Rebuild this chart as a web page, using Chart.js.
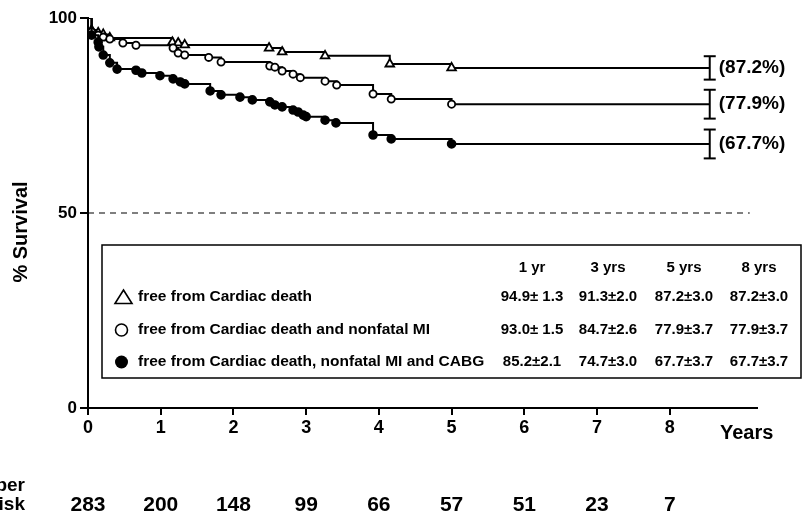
<!DOCTYPE html>
<html lang="en">
<head>
  <meta charset="UTF-8" />
  <title>Event-free survival</title>
  <script src="https://cdn.jsdelivr.net/npm/chart.js"></script>
  <style>
    html, body { margin: 0; padding: 0; background: #fff; }
    #chart { display: block; }
  </style>
</head>
<body>
  <canvas id="chart" width="803" height="517"></canvas>

  <script>
    // Kaplan-Meier steps: event times (years) and % event-free after each event
    const cdYears = [0, 0.05, 0.14, 0.21, 0.30, 1.16, 1.24, 1.33, 2.49, 2.67, 3.26, 4.15, 5.0];
    const cdSurv  = [100, 96.9, 96.2, 95.8, 94.9, 93.8, 93.6, 93.1, 92.3, 91.3, 90.3, 88.2, 87.2];

    const miYears = [0, 0.05, 0.14, 0.21, 0.30, 0.48, 0.66, 1.17, 1.24, 1.33, 1.66, 1.83,
                     2.50, 2.57, 2.67, 2.82, 2.92, 3.26, 3.42, 3.92, 4.17, 5.0];
    const miSurv  = [100, 96.4, 95.6, 95.1, 94.6, 93.6, 93.0, 92.3, 91.0, 90.5, 89.9, 88.7,
                     87.7, 87.4, 86.4, 85.6, 84.7, 83.8, 82.8, 80.5, 79.2, 77.9];

    const cabgYears = [0, 0.05, 0.14, 0.15, 0.21, 0.30, 0.40, 0.66, 0.74, 0.99, 1.17, 1.27, 1.33,
                       1.68, 1.83, 2.09, 2.26, 2.50, 2.57, 2.67, 2.82, 2.89, 2.96, 3.00, 3.26,
                       3.41, 3.92, 4.17, 5.0];
    const cabgSurv  = [100, 95.6, 93.8, 92.6, 90.5, 88.5, 86.9, 86.6, 85.9, 85.2, 84.4, 83.6, 83.1,
                       81.3, 80.3, 79.7, 79.0, 78.5, 77.7, 77.2, 76.4, 75.9, 75.1, 74.7, 73.8,
                       73.1, 70.0, 69.0, 67.7];

    const followUpEnd = 8.55;          // where the curves stop and the error bars sit
    const finalPct = [87.2, 77.9, 67.7];
    const finalSE  = [3.0, 3.7, 3.7];

    const refLine = 50;
    const refLineEnd = 9.1;

    const xTicks = [0, 1, 2, 3, 4, 5, 6, 7, 8];
    const yTicks = [0, 50, 100];

    const tableCols = ['1 yr', '3 yrs', '5 yrs', '8 yrs'];
    const tableRows = [
      'free from Cardiac death',
      'free from Cardiac death and nonfatal MI',
      'free from Cardiac death, nonfatal MI and CABG'
    ];
    const tableValues = [
      ['94.9± 1.3', '91.3±2.0', '87.2±3.0', '87.2±3.0'],
      ['93.0± 1.5', '84.7±2.6', '77.9±3.7', '77.9±3.7'],
      ['85.2±2.1', '74.7±3.0', '67.7±3.7', '67.7±3.7']
    ];

    const riskYears  = [0, 1, 2, 3, 4, 5, 6, 7, 8];
    const riskCounts = [283, 200, 148, 99, 66, 57, 51, 23, 7];

    const FONT = '"Liberation Sans", Arial, sans-serif';

    function curve(years, surv) {
      const pts = years.map((x, i) => ({ x: x, y: surv[i] }));
      pts.push({ x: followUpEnd, y: surv[surv.length - 1] });
      return pts;
    }

    // no marker at the start (100%) or at the end of follow-up
    function markerRadius(r) {
      return ctx => {
        const n = ctx.dataset.data.length;
        return (ctx.dataIndex === 0 || ctx.dataIndex === n - 1) ? 0 : r;
      };
    }

    function errorBar(i) {
      return [
        { x: followUpEnd, y: finalPct[i] - finalSE[i] },
        { x: followUpEnd, y: finalPct[i] + finalSE[i] }
      ];
    }

    const stepStyle = {
      type: 'line',
      stepped: 'before',
      borderColor: '#000',
      borderWidth: 2,
      pointBorderColor: '#000',
      pointBorderWidth: 1.8,
      pointHoverRadius: 0
    };

    const barStyle = {
      type: 'line',
      borderColor: '#000',
      borderWidth: 2,
      pointStyle: 'line',
      pointRadius: 6,
      pointBorderWidth: 2,
      pointBorderColor: '#000'
    };

    const datasets = [
      {
        label: 'ref',
        type: 'line',
        data: [{ x: 0, y: refLine }, { x: refLineEnd, y: refLine }],
        borderColor: '#000',
        borderWidth: 1.2,
        borderDash: [6, 5],
        pointRadius: 0
      },
      Object.assign({}, stepStyle, {
        label: 'cabg', data: curve(cabgYears, cabgSurv),
        pointStyle: 'circle', pointRadius: markerRadius(3.9), pointBackgroundColor: '#000'
      }),
      Object.assign({}, stepStyle, {
        label: 'mi', data: curve(miYears, miSurv),
        pointStyle: 'circle', pointRadius: markerRadius(3.6), pointBackgroundColor: '#fff'
      }),
      Object.assign({}, stepStyle, {
        label: 'cd', data: curve(cdYears, cdSurv),
        pointStyle: 'triangle', pointRadius: markerRadius(5), pointBackgroundColor: '#fff'
      }),
      Object.assign({}, barStyle, { label: 'bar0', data: errorBar(0) }),
      Object.assign({}, barStyle, { label: 'bar1', data: errorBar(1) }),
      Object.assign({}, barStyle, { label: 'bar2', data: errorBar(2) })
    ];

    // Text and the summary table drawn on top of the chart
    const annotations = {
      id: 'annotations',
      afterDraw(chart) {
        const ctx = chart.ctx;
        const xs = chart.scales.x;
        const ys = chart.scales.y;
        ctx.save();
        ctx.fillStyle = '#000';
        ctx.strokeStyle = '#000';

        // y title
        ctx.save();
        ctx.translate(21, 232);
        ctx.rotate(-Math.PI / 2);
        ctx.font = 'bold 20px ' + FONT;
        ctx.textAlign = 'center';
        ctx.textBaseline = 'middle';
        ctx.fillText('% Survival', 0, 0);
        ctx.restore();

        // x title
        ctx.font = 'bold 20px ' + FONT;
        ctx.textAlign = 'left';
        ctx.textBaseline = 'middle';
        ctx.fillText('Years', 720, 433);

        // end-of-follow-up labels
        ctx.font = 'bold 19px ' + FONT;
        finalPct.forEach(p => {
          ctx.fillText('(' + p.toFixed(1) + '%)', xs.getPixelForValue(followUpEnd) + 9, ys.getPixelForValue(p));
        });

        // summary box
        const box = { left: 102, top: 245, right: 801, bottom: 378 };
        ctx.lineWidth = 1.5;
        ctx.fillStyle = '#fff';
        ctx.fillRect(box.left, box.top, box.right - box.left, box.bottom - box.top);
        ctx.strokeRect(box.left, box.top, box.right - box.left, box.bottom - box.top);
        ctx.fillStyle = '#000';

        const colX = [532, 608, 684, 759];
        const rowY = [297, 330, 362];
        ctx.font = 'bold 15px ' + FONT;
        ctx.textAlign = 'center';
        tableCols.forEach((c, j) => ctx.fillText(c, colX[j], 268));
        tableValues.forEach((row, i) => {
          row.forEach((v, j) => ctx.fillText(v, colX[j], rowY[i]));
        });

        ctx.textAlign = 'left';
        ctx.font = 'bold 15.5px ' + FONT;
        tableRows.forEach((r, i) => ctx.fillText(r, 138, rowY[i]));

        // legend symbols
        ctx.lineWidth = 1.6;
        ctx.beginPath();
        ctx.moveTo(123.5, rowY[0] - 7);
        ctx.lineTo(132, rowY[0] + 6.5);
        ctx.lineTo(115, rowY[0] + 6.5);
        ctx.closePath();
        ctx.stroke();
        ctx.beginPath();
        ctx.arc(121.5, rowY[1], 6, 0, Math.PI * 2);
        ctx.stroke();
        ctx.beginPath();
        ctx.arc(121.5, rowY[2], 6.5, 0, Math.PI * 2);
        ctx.fill();

        // number at risk
        ctx.font = 'bold 19px ' + FONT;
        ctx.textAlign = 'right';
        ctx.fillText('Number', 25, 486);
        ctx.fillText('at risk', 25, 505);
        ctx.font = 'bold 21px ' + FONT;
        ctx.textAlign = 'center';
        riskYears.forEach((yr, i) => {
          ctx.fillText(String(riskCounts[i]), xs.getPixelForValue(yr), 505);
        });

        ctx.restore();
      }
    };

    new Chart(document.getElementById('chart'), {
      type: 'line',
      data: { datasets: datasets },
      options: {
        responsive: false,
        animation: false,
        devicePixelRatio: 1,
        layout: { padding: { left: 0, right: 46, top: 18, bottom: 0 } },
        plugins: {
          legend: { display: false },
          tooltip: { enabled: false }
        },
        scales: {
          x: {
            type: 'linear',
            min: 0,
            max: 9.2,
            afterBuildTicks: s => { s.ticks = xTicks.map(v => ({ value: v })); },
            afterFit: s => { s.height = 109; },
            ticks: {
              color: '#000',
              padding: 2,
              maxRotation: 0,
              autoSkip: false,
              font: { family: FONT, weight: 'bold', size: 18 }
            },
            grid: { drawOnChartArea: false, color: '#000', lineWidth: 2, tickLength: 7 },
            border: { color: '#000', width: 2 }
          },
          y: {
            type: 'linear',
            min: 0,
            max: 100,
            afterBuildTicks: s => { s.ticks = yTicks.map(v => ({ value: v })); },
            afterFit: s => { s.width = 88; },
            ticks: {
              color: '#000',
              padding: 3,
              font: { family: FONT, weight: 'bold', size: 17 }
            },
            grid: { drawOnChartArea: false, color: '#000', lineWidth: 2, tickLength: 8 },
            border: { color: '#000', width: 2 }
          }
        }
      },
      plugins: [annotations]
    });
  </script>
</body>
</html>
